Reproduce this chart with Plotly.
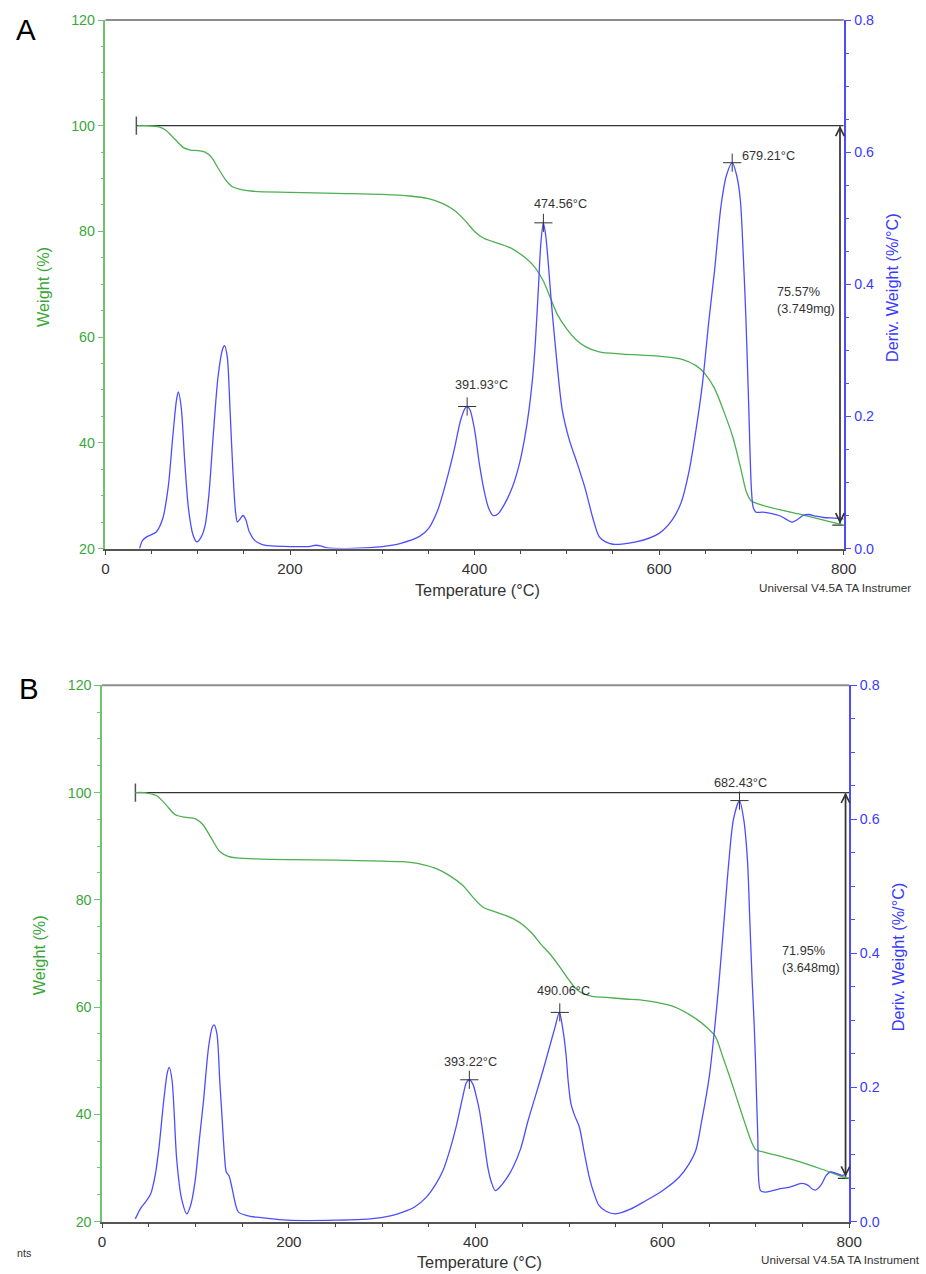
import plotly.graph_objects as go

FIG_W, FIG_H = 926, 1274
# empirical correction of the photographed page (observed ~1.5% shrink and 8px top offset)
SX, SY, OY = 0.984, 0.987, 8.0
FS = 1 / SX

FONT = "Liberation Sans, Arial, sans-serif"
GREEN = "#4caf50"
GREEN_TXT = "#3aa63a"
GREEN_AX = "#6cc46c"
BLUE = "#4d4dff"
BLUE_TXT = "#3a3aff"
GREY_TXT = "#333333"

# ---------------- Panel A data ----------------
a_w_T = [35, 45, 58, 65, 75, 85, 92, 100, 108, 115, 122, 130, 137, 145, 160, 200, 250, 300,
         330, 350, 365, 378, 390, 400, 410, 425, 440, 455, 465, 474, 482, 490, 500, 510, 520,
         535, 560, 600, 625, 640, 650, 660, 670, 680, 688, 695, 700, 710, 720, 750, 775, 800]
a_w = [100, 100, 99.8, 99.2, 97.5, 95.8, 95.4, 95.3, 95.0, 94.0, 92.0, 89.8, 88.5, 88.0, 87.6,
       87.4, 87.2, 87.0, 86.7, 86.2, 85.3, 84.0, 82.0, 80.0, 78.7, 77.8, 76.8, 75.0, 73.3, 70.8,
       67.5, 64.2, 61.5, 59.5, 58.2, 57.2, 56.8, 56.4, 55.8, 54.6, 53.0, 50.3, 46.0, 41.0, 35.5,
       30.5, 29.0, 28.3, 27.8, 26.6, 25.5, 24.43]

a_d_T = [37, 40, 45, 55, 62, 68, 73, 77, 79, 82, 86, 90, 95, 99, 104, 108, 112, 117, 122, 127,
         129, 132, 135, 138, 141, 143, 146, 149, 152, 156, 162, 170, 180, 200, 220, 228, 233,
         240, 260, 280, 300, 320, 340, 350, 360, 370, 378, 385, 390, 391.93, 395, 400, 405, 410,
         415, 420, 425, 432, 441, 448, 454, 459, 463, 466, 469, 472, 474.56, 477, 480, 483,
         488, 495, 503, 511, 520, 528, 535, 542, 550, 575, 600, 614, 624, 632, 640, 647, 654,
         660, 667, 673, 679.21, 684, 688, 691, 694, 697, 700, 702, 705, 712, 722, 730, 737, 744,
         750, 756, 762, 770, 778, 790, 800]
a_d = [0.0, 0.012, 0.018, 0.025, 0.045, 0.093, 0.17, 0.225, 0.237, 0.215, 0.13, 0.06, 0.02,
       0.010, 0.018, 0.035, 0.08, 0.175, 0.26, 0.302, 0.307, 0.29, 0.21, 0.12, 0.055, 0.040,
       0.045, 0.050, 0.044, 0.025, 0.012, 0.006, 0.004, 0.003, 0.003, 0.005, 0.004, 0.001, 0.0,
       0.001, 0.003, 0.008, 0.018, 0.03, 0.058, 0.105, 0.15, 0.195, 0.213, 0.215, 0.21, 0.18,
       0.13, 0.09, 0.062, 0.05, 0.052, 0.066, 0.093, 0.125, 0.165, 0.21, 0.26, 0.315, 0.39,
       0.465, 0.493, 0.475, 0.43, 0.376, 0.30, 0.21, 0.163, 0.13, 0.09, 0.047, 0.018, 0.01,
       0.0065, 0.01, 0.023, 0.043, 0.07, 0.114, 0.18, 0.25, 0.346, 0.42, 0.518, 0.565, 0.584,
       0.565, 0.528, 0.45, 0.35, 0.22, 0.09, 0.062, 0.055, 0.055, 0.053, 0.05, 0.045, 0.040,
       0.044, 0.05, 0.0515, 0.049, 0.047, 0.046, 0.045]

a_peak_T = [391.93, 474.56, 679.21]
a_peak_D = [0.215, 0.493, 0.584]
a_peak_lbl = ["391.93°C", "474.56°C", "679.21°C"]
a_start_T = 33.5
a_end_T = 796
a_end_W = 24.43
a_loss_lbl = "75.57%<br>(3.749mg)"

# ---------------- Panel B data ----------------
b_w_T = [35.6, 45, 58.5, 68, 78, 88, 100, 108, 117, 126, 135, 144, 170, 200, 251, 300, 322,
         340, 358, 372, 386, 397, 408, 420, 430, 440, 450, 460, 470, 480, 490, 500, 508, 515,
         525, 540, 560, 582, 610, 636, 650, 657, 665, 672, 678, 688, 695, 700, 710, 742, 770,
         794, 800]
b_w = [100, 100, 99.4, 97.8, 95.9, 95.4, 95.1, 94.0, 91.5, 89.0, 88.1, 87.8, 87.6, 87.5, 87.4,
       87.2, 87.1, 86.7, 85.8, 84.5, 82.7, 80.5, 78.6, 77.8, 77.2, 76.5, 75.4, 73.8, 71.7, 69.8,
       67.5, 65.0, 63.3, 62.5, 62.0, 61.8, 61.5, 61.2, 60.2, 57.8, 55.8, 54.4, 50.5, 47.0, 43.8,
       38.5, 35.0, 33.4, 32.9, 31.4, 29.8, 28.3, 28.05]

b_d_T = [35.6, 41, 47, 52, 57, 61, 66, 70, 72, 75, 80, 85, 90.8, 95, 99.7, 104, 108.6, 114,
         118, 120, 123, 126, 128, 131, 133, 136, 139, 143, 146, 155, 165.6, 190, 215, 250, 286.6,
         310, 322, 335, 347, 357, 365, 372, 379, 386, 390, 393.22, 397, 401, 404, 409, 413, 417,
         421, 425, 432, 440, 448, 456, 464.6, 472, 479, 485, 489.6, 493, 496.7, 499, 502, 506,
         511, 516, 521.7, 526, 532, 540, 550, 565, 582, 600, 617.8, 628, 635.6, 642, 650, 656,
         661, 666, 671.2, 676, 682.43, 687, 691, 693.5, 696, 698, 699.6, 702, 705, 710, 717.6,
         726, 735.4, 742, 749.5, 756, 760, 764, 770, 775, 779.7, 786, 792, 796]
b_d = [0.004, 0.019, 0.03, 0.041, 0.07, 0.111, 0.18, 0.223, 0.230, 0.21, 0.091, 0.035, 0.0115,
       0.025, 0.061, 0.12, 0.18, 0.26, 0.29, 0.2935, 0.28, 0.21, 0.166, 0.10, 0.074, 0.068,
       0.051, 0.025, 0.014, 0.009, 0.0065, 0.003, 0.0015, 0.002, 0.004, 0.009, 0.014, 0.022,
       0.036, 0.055, 0.076, 0.105, 0.141, 0.185, 0.207, 0.2115, 0.205, 0.185, 0.166, 0.12,
       0.081, 0.058, 0.046, 0.05, 0.062, 0.081, 0.108, 0.15, 0.19, 0.225, 0.26, 0.29, 0.312,
       0.29, 0.25, 0.21, 0.176, 0.158, 0.141, 0.105, 0.066, 0.045, 0.024, 0.015, 0.0115, 0.018,
       0.031, 0.046, 0.066, 0.085, 0.106, 0.15, 0.215, 0.29, 0.365, 0.45, 0.539, 0.6, 0.628,
       0.6, 0.539, 0.45, 0.36, 0.30, 0.24, 0.13, 0.046, 0.044, 0.046, 0.049, 0.051, 0.054,
       0.057, 0.054, 0.049, 0.047, 0.055, 0.068, 0.074, 0.072, 0.069, 0.07]

b_peak_T = [393.22, 490.06, 682.43]
b_peak_D = [0.2115, 0.312, 0.628]
b_peak_lbl = ["393.22°C", "490.06°C", "682.43°C"]
b_start_T = 35.7
b_end_T = 796
b_end_W = 28.05
b_loss_lbl = "71.95%<br>(3.648mg)"

x_ticks = [0, 200, 400, 600, 800]
w_ticks = [20, 40, 60, 80, 100, 120]
d_ticks = [0.0, 0.2, 0.4, 0.6, 0.8]


def px(x):
    return (x / SX) / FIG_W


def py(y):
    return 1 - ((y - OY) / SY) / FIG_H


def fs(v):
    return round(v * FS, 2)


fig = go.Figure()

panels = [
    dict(xa="x", ya="y", ya2="y2", wT=a_w_T, w=a_w, dT=a_d_T, d=a_d, pT=a_peak_T, pD=a_peak_D,
         plbl=a_peak_lbl, sT=a_start_T, eT=a_end_T, eW=a_end_W),
    dict(xa="x2", ya="y3", ya2="y4", wT=b_w_T, w=b_w, dT=b_d_T, d=b_d, pT=b_peak_T, pD=b_peak_D,
         plbl=b_peak_lbl, sT=b_start_T, eT=b_end_T, eW=b_end_W),
]

for p in panels:
    fig.add_trace(go.Scatter(x=[p["sT"], 800], y=[100, 100], mode="lines",
                             line=dict(color="#333333", width=1.2),
                             xaxis=p["xa"], yaxis=p["ya"], showlegend=False, hoverinfo="skip"))
    fig.add_trace(go.Scatter(x=[p["sT"]], y=[100], mode="markers",
                             marker=dict(symbol="line-ns", size=13,
                                         line=dict(color="#555555", width=1.5)),
                             xaxis=p["xa"], yaxis=p["ya"], showlegend=False, hoverinfo="skip"))
    fig.add_trace(go.Scatter(x=[p["eT"], p["eT"]], y=[100, p["eW"]], mode="lines",
                             line=dict(color="#777777", width=1.8),
                             xaxis=p["xa"], yaxis=p["ya"], showlegend=False, hoverinfo="skip"))
    fig.add_trace(go.Scatter(x=[p["eT"]], y=[p["eW"]], mode="markers",
                             marker=dict(symbol="line-ew", size=11,
                                         line=dict(color="#333333", width=1.3)),
                             xaxis=p["xa"], yaxis=p["ya"], showlegend=False, hoverinfo="skip"))
    fig.add_trace(go.Scatter(x=p["wT"], y=p["w"], mode="lines",
                             line=dict(color=GREEN, width=1.3, shape="spline", smoothing=0.8),
                             xaxis=p["xa"], yaxis=p["ya"], showlegend=False))
    fig.add_trace(go.Scatter(x=p["dT"], y=p["d"], mode="lines",
                             line=dict(color=BLUE, width=1.3, shape="spline", smoothing=0.8),
                             xaxis=p["xa"], yaxis=p["ya2"], showlegend=False))
    fig.add_trace(go.Scatter(x=p["pT"], y=p["pD"], mode="markers",
                             marker=dict(symbol="cross-thin", size=13,
                                         line=dict(color="#333333", width=1)),
                             xaxis=p["xa"], yaxis=p["ya2"], showlegend=False, hoverinfo="skip"))

ann = []
a_shift = [(14, 21), (17, 19), (36, 7)]
b_shift = [(1, 18), (4, 21), (1, 17)]
for p, shifts in ((panels[0], a_shift), (panels[1], b_shift)):
    for t, d, lbl, (dx, dy) in zip(p["pT"], p["pD"], p["plbl"], shifts):
        ann.append(dict(x=t, y=d, xref=p["xa"], yref=p["ya2"], text=lbl, showarrow=False,
                        xshift=dx / SX, yshift=dy / SY,
                        font=dict(size=fs(12.5), color=GREY_TXT, family=FONT)))
    ann.append(dict(x=p["eT"], y=100, ax=p["eT"], ay=p["eW"], xref=p["xa"], yref=p["ya"],
                    axref=p["xa"], ayref=p["ya"], showarrow=True, arrowhead=5, startarrowhead=5,
                    arrowside="end+start", arrowwidth=1.3, arrowsize=1.3, arrowcolor="#333333",
                    text=""))

ann.append(dict(x=px(773), y=py(300), xref="paper", yref="paper", text=a_loss_lbl,
                showarrow=False, xanchor="left", yanchor="middle", align="left",
                font=dict(size=fs(12.5), color=GREY_TXT, family=FONT)))
ann.append(dict(x=px(777.5), y=py(959.5), xref="paper", yref="paper", text=b_loss_lbl,
                showarrow=False, xanchor="left", yanchor="middle", align="left",
                font=dict(size=fs(12.5), color=GREY_TXT, family=FONT)))


def text(x, y, s, size, color, angle=0, xanchor="center"):
    ann.append(dict(x=px(x), y=py(y), xref="paper", yref="paper", text=s, showarrow=False,
                    xanchor=xanchor, yanchor="middle", textangle=angle,
                    font=dict(size=fs(size), color=color, family=FONT)))


text(475, 590, "Temperature (°C)", 16, GREY_TXT)
text(39, 287, "Weight (%)", 16, GREEN_TXT, -90)
text(890, 287, "Deriv. Weight (%/°C)", 16, BLUE_TXT, -90)
text(755, 587, "Universal V4.5A TA Instrumer", 11.5, GREY_TXT, xanchor="left")
text(22, 29, "A", 29, "#000000")

text(477, 1261, "Temperature (°C)", 16, GREY_TXT)
text(36, 955, "Weight (%)", 16, GREEN_TXT, -90)
text(897, 956, "Deriv. Weight (%/°C)", 16, BLUE_TXT, -90)
text(757, 1259, "Universal V4.5A TA Instrument", 11.5, GREY_TXT, xanchor="left")
text(29, 1252, "nts", 10.5, GREY_TXT, xanchor="right")
text(25, 688, "B", 29, "#000000")

tickfont_x = dict(size=fs(15), color=GREY_TXT, family=FONT)
tickfont_w = dict(size=fs(14), color=GREEN_TXT, family=FONT)
tickfont_d = dict(size=fs(14), color=BLUE_TXT, family=FONT)


def xaxis(domain, anchor):
    return dict(domain=domain, anchor=anchor, range=[0, 800], tickvals=x_ticks,
                ticks="outside", ticklen=5, tickcolor="#444444", showline=True,
                linecolor="#555555", linewidth=1.5, showgrid=False, zeroline=False,
                tickfont=tickfont_x,
                minor=dict(dtick=50, ticks="outside", ticklen=4, tickcolor="#444444"))


def waxis(domain, anchor):
    return dict(domain=domain, anchor=anchor, range=[20, 120], tickvals=w_ticks,
                ticks="outside", ticklen=6, tickcolor=GREEN_AX, showline=True,
                linecolor=GREEN_AX, linewidth=1.5, showgrid=False, zeroline=False,
                tickfont=tickfont_w,
                minor=dict(dtick=5, ticks="outside", ticklen=3, tickcolor=GREEN_AX))


def daxis(over, anchor):
    return dict(overlaying=over, anchor=anchor, side="right", range=[0, 0.8],
                tickvals=d_ticks, tickformat=".1f", ticks="outside", ticklen=6,
                tickcolor=BLUE, showline=True, linecolor=BLUE, linewidth=1.5,
                showgrid=False, zeroline=False, tickfont=tickfont_d,
                minor=dict(dtick=0.05, ticks="outside", ticklen=4, tickcolor=BLUE))


xa_dom = [px(101.7), px(841.7)]
ya_dom = [py(548.3), py(20)]
xb_dom = [px(98.3), px(847.3)]
yb_dom = [py(1221), py(685)]

shapes = [
    dict(type="line", xref="x domain", yref="y domain", x0=0, x1=1, y0=1, y1=1,
         line=dict(color="#8c8c8c", width=2)),
    dict(type="line", xref="x2 domain", yref="y3 domain", x0=0, x1=1, y0=1, y1=1,
         line=dict(color="#8c8c8c", width=2)),
]

fig.update_layout(
    width=FIG_W, height=FIG_H, autosize=False,
    margin=dict(l=0, r=0, t=0, b=0),
    paper_bgcolor="white", plot_bgcolor="white",
    font=dict(family=FONT),
    xaxis=xaxis(xa_dom, "y"),
    yaxis=waxis(ya_dom, "x"),
    yaxis2=daxis("y", "x"),
    xaxis2=xaxis(xb_dom, "y3"),
    yaxis3=waxis(yb_dom, "x2"),
    yaxis4=daxis("y3", "x2"),
    annotations=ann,
    shapes=shapes,
    showlegend=False,
)

page_fix = (
    "document.documentElement.style.margin='0px';"
    "document.documentElement.style.overflow='hidden';"
    "document.body.style.margin='0px';"
    "document.body.style.overflow='hidden';"
)

fig.write_html("out.html", config={"displayModeBar": False}, post_script=page_fix)
